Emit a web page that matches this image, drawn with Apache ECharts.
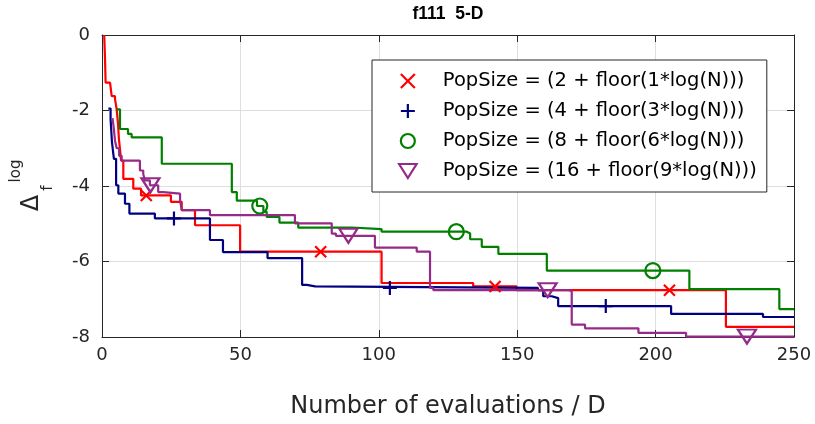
<!DOCTYPE html>
<html>
<head>
<meta charset="utf-8">
<script src="https://cdn.jsdelivr.net/npm/echarts@6/dist/echarts.min.js"></script>
<style>
  html, body { margin: 0; padding: 0; background: #fff; }
  #chart { width: 815px; height: 424px; }
</style>
</head>
<body>
<div id="chart"></div>
<script>
// Best-so-far runs: [evaluations / D, log10 of target gap], drawn as stairs
const popSize2 = [[0.8,0],[1.1,-0.65],[1.3,-1.26],[2.9,-1.31],[3.5,-1.62],[4.7,-1.70],[5.3,-1.97],[5.8,-2.36],[6.1,-2.75],[6.5,-3.02],[6.9,-3.33],[7.7,-3.81],[11.3,-4.07],[14.1,-4.25],[24.9,-4.42],[28.8,-4.64],[33.6,-5.04],[49.9,-5.74],[101,-6.57],[134.1,-6.66],[149.8,-6.76],[225.4,-7.73],[250,-7.73]];
const popSize4 = [[2.3,-1.95],[3.1,-2.23],[3.6,-2.84],[4.3,-3.28],[5.1,-3.98],[5.9,-4.20],[8.3,-4.47],[9.9,-4.73],[19.1,-4.86],[39.0,-5.43],[43.7,-5.75],[59.8,-5.91],[72.3,-6.62],[74,-6.66],[77,-6.70],[157.5,-6.76],[159.4,-6.92],[162.5,-6.97],[164.8,-7.18],[205.6,-7.39],[238.8,-7.47],[250,-7.47]];
const popSize8 = [[5.3,-1.97],[6.5,-2.49],[9.4,-2.62],[10.7,-2.71],[21.6,-3.41],[46.9,-4.16],[48.7,-4.39],[56.0,-4.53],[58.3,-4.68],[59.5,-4.82],[64.1,-4.97],[70.9,-5.10],[90.2,-5.14],[101,-5.21],[131.8,-5.26],[133,-5.41],[137.2,-5.61],[143.2,-5.80],[160.7,-6.24],[212.2,-6.73],[244.7,-7.26],[250,-7.26]];
const popSize16 = [[3.8,-2.2],[4.3,-2.5],[4.7,-2.8],[5.3,-3.0],[6.2,-3.2],[7.1,-3.33],[13.7,-3.59],[14.9,-3.68],[15.5,-3.85],[17.3,-3.98],[20.3,-4.16],[22.1,-4.20],[28.2,-4.38],[28.8,-4.64],[39.0,-4.77],[69.7,-4.99],[83.0,-5.26],[84.5,-5.32],[98.6,-5.63],[113.7,-5.74],[118.5,-6.70],[119.7,-6.76],[168.8,-6.79],[169.7,-7.67],[174.5,-7.77],[193.8,-7.89],[211,-7.99],[250,-7.99]];

// Where the marker symbols sit along each run
const markX2 = [16, 79, 142, 205];
const markX4 = [26, 104, 182];
const markX8 = [57, 128, 199];
const markX16 = [17.5, 89, 161, 233];

const names = [
  'PopSize = (2 + floor(1*log(N)))',
  'PopSize = (4 + floor(3*log(N)))',
  'PopSize = (8 + floor(6*log(N)))',
  'PopSize = (16 + floor(9*log(N)))'
];
const xTicks = [0, 50, 100, 150, 200, 250];
const yTicks = [-8, -6, -4, -2, 0];

const colors = ['#ff0000', '#000080', '#008000', '#952a88'];
const runs = [popSize2, popSize4, popSize8, popSize16];
const marks = [markX2, markX4, markX8, markX16];
const symbols = [
  'path://M0,0L10,10M10,0L0,10',
  'path://M5,0L5,10M0,5L10,5',
  'circle',
  'path://M0,0L20,0L10,16Z'
];
const symbolSizes = [11, 14, 15, [18, 14]];

// value of a stair run at a given x (last step at or before x)
function stairAt(run, x) {
  let y = run[0][1];
  for (const p of run) { if (p[0] <= x) y = p[1]; }
  return y;
}

const FONT = '"DejaVu Sans", "Liberation Sans", sans-serif';
const INK = '#262626';

const series = [];
runs.forEach((run, i) => {
  series.push({
    name: 'run' + i,
    type: 'line',
    step: 'end',
    data: run,
    showSymbol: false,
    symbol: 'none',
    lineStyle: { color: colors[i], width: 2.2 },
    itemStyle: { color: colors[i] },
    z: 2 + i
  });
});
marks.forEach((mx, i) => {
  series.push({
    name: names[i],
    type: 'scatter',
    data: mx.map(x => [x, stairAt(runs[i], x)]),
    symbol: symbols[i],
    symbolSize: symbolSizes[i],
    itemStyle: { color: 'transparent', borderColor: colors[i], borderWidth: 2.2, opacity: 1 },
    z: 10
  });
});

const axisCommon = {
  axisLine: { show: true, onZero: false, lineStyle: { color: INK, width: 1 } },
  axisTick: { show: true, inside: true, length: 7, lineStyle: { color: INK } }
};

const option = {
  animation: false,
  backgroundColor: '#ffffff',
  title: {
    text: 'f111  5-D',
    left: 448,
    top: 5,
    textAlign: 'center',
    padding: 0,
    textStyle: { fontFamily: '"Liberation Sans", Arial, sans-serif', fontWeight: 'bold', fontSize: 17.5, color: '#000' }
  },
  grid: { left: 102, right: 21, top: 35, bottom: 85, containLabel: false },
  xAxis: [
    Object.assign({
      type: 'value', min: xTicks[0], max: xTicks[xTicks.length - 1], interval: 50,
      name: 'Number of evaluations / D', nameLocation: 'middle', nameGap: 58,
      nameTextStyle: { fontFamily: FONT, fontSize: 24, color: INK },
      axisLabel: { fontFamily: FONT, fontSize: 18, color: INK, margin: 9 },
      splitLine: { show: true, lineStyle: { color: '#dedede', width: 1 } }
    }, axisCommon),
    Object.assign({
      type: 'value', position: 'top', min: xTicks[0], max: xTicks[xTicks.length - 1], interval: 50,
      axisLabel: { show: false }, splitLine: { show: false }
    }, axisCommon)
  ],
  yAxis: [
    Object.assign({
      type: 'value', min: yTicks[0], max: yTicks[yTicks.length - 1], interval: 2,
      axisLabel: { fontFamily: FONT, fontSize: 18, color: INK, margin: 12 },
      splitLine: { show: true, lineStyle: { color: '#dedede', width: 1 } }
    }, axisCommon),
    Object.assign({
      type: 'value', position: 'right', min: yTicks[0], max: yTicks[yTicks.length - 1], interval: 2,
      axisLabel: { show: false }, splitLine: { show: false }
    }, axisCommon)
  ],
  legend: {
    orient: 'vertical',
    left: 372,
    top: 60,
    padding: [11, 10, 11, 26],
    itemWidth: 20,
    itemHeight: 14,
    itemGap: 10,
    backgroundColor: '#ffffff',
    borderColor: INK,
    borderWidth: 1,
    borderRadius: 0,
    selectedMode: false,
    textStyle: { fontFamily: FONT, fontSize: 19.5, color: '#000', lineHeight: 20, padding: [0, 0, 0, 20] },
    data: names.map((n, i) => ({
      name: n,
      icon: symbols[i],
      itemStyle: { color: 'transparent', borderColor: colors[i], borderWidth: 2.2, opacity: 1 }
    }))
  },
  graphic: [
    { type: 'text', x: 32, y: 203, rotation: Math.PI / 2,
      style: { text: 'Δ', font: '24px ' + FONT, fill: INK, textAlign: 'center', textVerticalAlign: 'middle' } },
    { type: 'text', x: 48, y: 188, rotation: Math.PI / 2,
      style: { text: 'f', font: '15px ' + FONT, fill: INK, textAlign: 'center', textVerticalAlign: 'middle' } },
    { type: 'text', x: 16, y: 171, rotation: Math.PI / 2,
      style: { text: 'log', font: '15px ' + FONT, fill: INK, textAlign: 'center', textVerticalAlign: 'middle' } }
  ],
  series: series
};

const chart = echarts.init(document.getElementById('chart'), null, { renderer: 'canvas' });
chart.setOption(option);
</script>
</body>
</html>
